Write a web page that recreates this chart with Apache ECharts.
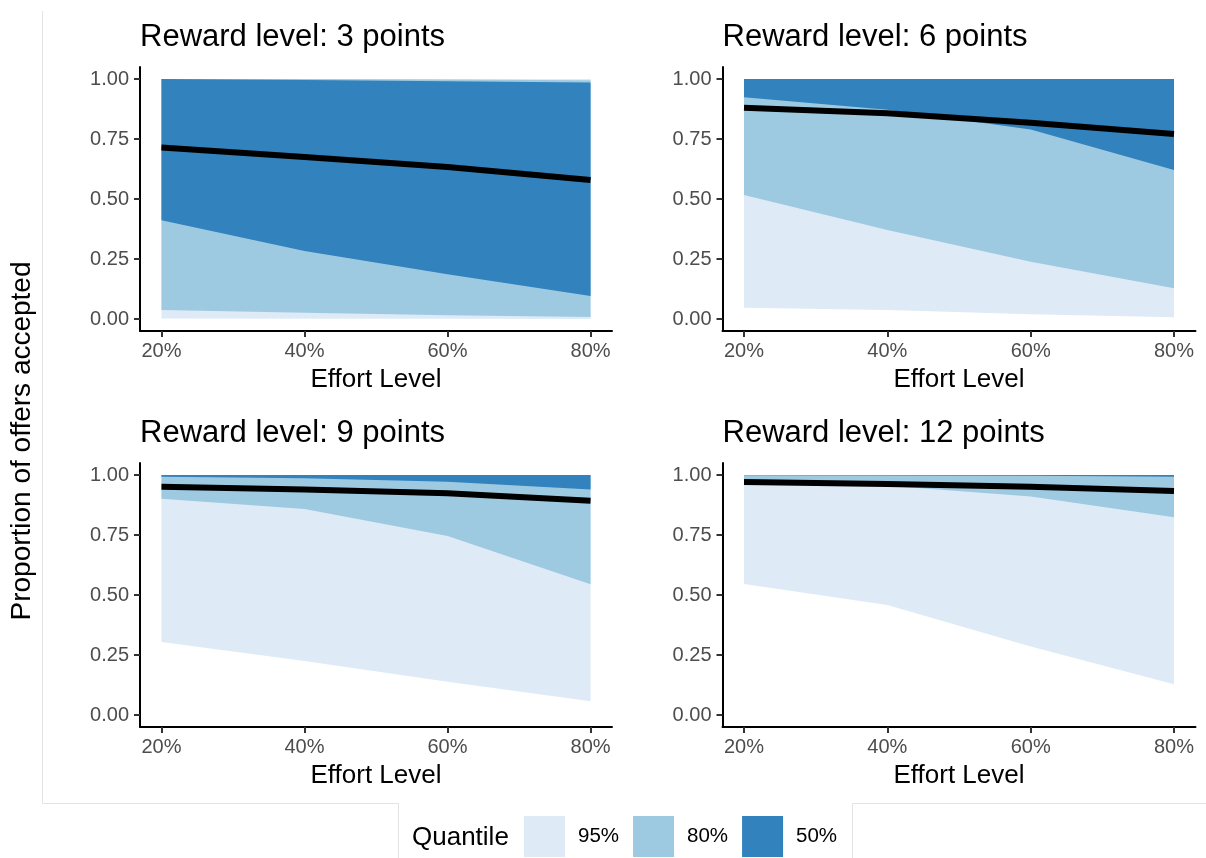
<!DOCTYPE html>
<html>
<head>
<meta charset="utf-8">
<script src="https://cdn.jsdelivr.net/npm/echarts@6/dist/echarts.min.js"></script>
<style>
html,body{margin:0;padding:0;background:#fff;}
#chart{width:1206px;height:858px;}
</style>
</head>
<body>
<div id="chart"></div>
<script>
// ---- data ----
const effortLevels = [0.2, 0.4, 0.6, 0.8];
const xTickValues = [0.2, 0.4, 0.6, 0.8];
const yTickValues = [0, 0.25, 0.5, 0.75, 1];
const panelTitles = ['Reward level: 3 points', 'Reward level: 6 points', 'Reward level: 9 points', 'Reward level: 12 points'];
const quantileNames = ['95%', '80%', '50%'];

// reward 3
const r3_median = [0.715, 0.675, 0.633, 0.579];
const r3_q95_lo = [0.002, 0.001, 0.001, 0.000];
const r3_q95_hi = [1.000, 1.000, 1.000, 1.000];
const r3_q80_lo = [0.038, 0.026, 0.016, 0.008];
const r3_q80_hi = [1.000, 1.000, 0.998, 0.995];
const r3_q50_lo = [0.411, 0.283, 0.186, 0.096];
const r3_q50_hi = [1.000, 0.996, 0.991, 0.985];
// reward 6
const r6_median = [0.880, 0.857, 0.818, 0.771];
const r6_q95_lo = [0.047, 0.038, 0.020, 0.007];
const r6_q95_hi = [1.000, 1.000, 1.000, 1.000];
const r6_q80_lo = [0.517, 0.371, 0.239, 0.128];
const r6_q80_hi = [1.000, 1.000, 1.000, 1.000];
const r6_q50_lo = [0.924, 0.872, 0.790, 0.621];
const r6_q50_hi = [1.000, 1.000, 1.000, 1.000];
// reward 9
const r9_median = [0.951, 0.940, 0.924, 0.893];
const r9_q95_lo = [0.304, 0.225, 0.139, 0.057];
const r9_q95_hi = [1.000, 1.000, 1.000, 1.000];
const r9_q80_lo = [0.901, 0.858, 0.746, 0.545];
const r9_q80_hi = [1.000, 1.000, 1.000, 1.000];
const r9_q50_lo = [0.993, 0.986, 0.972, 0.940];
const r9_q50_hi = [1.000, 1.000, 1.000, 1.000];
// reward 12
const r12_median = [0.971, 0.963, 0.951, 0.933];
const r12_q95_lo = [0.546, 0.458, 0.285, 0.128];
const r12_q95_hi = [1.000, 1.000, 1.000, 1.000];
const r12_q80_lo = [0.962, 0.955, 0.910, 0.824];
const r12_q80_hi = [1.000, 1.000, 1.000, 1.000];
const r12_q50_lo = [0.999, 0.998, 0.997, 0.993];
const r12_q50_hi = [1.000, 1.000, 1.000, 1.000];

const bandColors = {'95%': '#deebf7', '80%': '#9ecae1', '50%': '#3182bd'};

const panels = [
  {median: r3_median, bands: {'95%': [r3_q95_lo, r3_q95_hi], '80%': [r3_q80_lo, r3_q80_hi], '50%': [r3_q50_lo, r3_q50_hi]}},
  {median: r6_median, bands: {'95%': [r6_q95_lo, r6_q95_hi], '80%': [r6_q80_lo, r6_q80_hi], '50%': [r6_q50_lo, r6_q50_hi]}},
  {median: r9_median, bands: {'95%': [r9_q95_lo, r9_q95_hi], '80%': [r9_q80_lo, r9_q80_hi], '50%': [r9_q50_lo, r9_q50_hi]}},
  {median: r12_median, bands: {'95%': [r12_q95_lo, r12_q95_hi], '80%': [r12_q80_lo, r12_q80_hi], '50%': [r12_q50_lo, r12_q50_hi]}}
];

// ---- layout ----
const FONT = '"Liberation Sans", Arial, sans-serif';
const grids = [
  {left: 140, top: 67, width: 472, height: 264},
  {left: 722.5, top: 67, width: 473, height: 264},
  {left: 140, top: 463, width: 472, height: 264},
  {left: 722.5, top: 463, width: 473, height: 264}
];

// ribbon drawn as one polygon through the axis scales (api.coord)
function ribbonRenderer(xs, lo, hi, color) {
  return function (params, api) {
    if (params.dataIndex !== 0) return null;
    const pts = [];
    for (let k = 0; k < xs.length; k++) pts.push(api.coord([xs[k], hi[k]]));
    for (let k = xs.length - 1; k >= 0; k--) pts.push(api.coord([xs[k], lo[k]]));
    return {type: 'polygon', shape: {points: pts}, style: {fill: color, stroke: null}};
  };
}

const xAxes = [], yAxes = [], series = [], titles = [];
grids.forEach((g, i) => {
  titles.push({text: panelTitles[i], left: g.left, top: g.top - 45,
    textStyle: {fontFamily: FONT, fontSize: 31, fontWeight: 'normal', color: '#000'}, padding: 0});
  xAxes.push({
    type: 'value', gridIndex: i, min: 0.17, max: 0.83,
    name: 'Effort Level', nameLocation: 'middle', nameGap: 36,
    nameTextStyle: {fontFamily: FONT, fontSize: 26, color: '#000'},
    axisLine: {show: true, onZero: false, lineStyle: {color: '#000', width: 2}},
    axisTick: {show: true, length: 6, customValues: xTickValues, lineStyle: {color: '#333', width: 2}},
    axisLabel: {customValues: xTickValues, margin: 10, fontFamily: FONT, fontSize: 20, color: '#4d4d4d',
      formatter: v => Math.round(v * 100) + '%'},
    splitLine: {show: false}
  });
  yAxes.push({
    type: 'value', gridIndex: i, min: -0.05, max: 1.05,
    axisLine: {show: true, onZero: false, lineStyle: {color: '#000', width: 2}},
    axisTick: {show: true, length: 6, customValues: yTickValues, lineStyle: {color: '#333', width: 2}},
    axisLabel: {customValues: yTickValues, margin: 11, fontFamily: FONT, fontSize: 20, color: '#4d4d4d',
      formatter: v => v.toFixed(2)},
    splitLine: {show: false}
  });
  const p = panels[i];
  quantileNames.forEach((q, qi) => {
    const lo = p.bands[q][0], hi = p.bands[q][1];
    series.push({
      type: 'custom', name: q, xAxisIndex: i, yAxisIndex: i,
      data: effortLevels.map((x, k) => [x, lo[k], hi[k]]),
      encode: {x: 0, y: [1, 2]},
      itemStyle: {color: bandColors[q]},
      renderItem: ribbonRenderer(effortLevels, lo, hi, bandColors[q]),
      silent: true, z: 2 + qi, clip: true
    });
  });
  series.push({
    type: 'line', name: 'median' + i, xAxisIndex: i, yAxisIndex: i,
    data: effortLevels.map((x, k) => [x, p.median[k]]),
    symbol: 'none', silent: true, lineStyle: {color: '#000', width: 6, cap: 'butt'}, z: 6
  });
});

const chart = echarts.init(document.getElementById('chart'), null, {renderer: 'canvas'});
chart.setOption({
  backgroundColor: '#fff',
  animation: false,
  title: titles,
  grid: grids,
  xAxis: xAxes,
  yAxis: yAxes,
  series: series,
  legend: {
    data: quantileNames.map(q => ({name: q, itemStyle: {color: bandColors[q]}, icon: 'rect'})),
    left: 524, top: 816, itemWidth: 41, itemHeight: 41, itemGap: 14,
    selectedMode: false, padding: 0,
    textStyle: {fontFamily: FONT, fontSize: 20.5, color: '#000', padding: [0, 0, 0, 8]}
  },
  graphic: [
    {type: 'text', x: 22, y: 441, rotation: Math.PI / 2,
      style: {text: 'Proportion of offers accepted', fontFamily: FONT, fontSize: 28, fill: '#000', align: 'center', verticalAlign: 'middle'}},
    {type: 'text', x: 412, y: 838,
      style: {text: 'Quantile', fontFamily: FONT, fontSize: 26, fill: '#000', align: 'left', verticalAlign: 'middle'}},
    {type: 'polyline', shape: {points: [[42.5, 11], [42.5, 803.5], [398.5, 803.5], [398.5, 858]]},
      style: {stroke: '#e3e3e3', lineWidth: 1, fill: null}},
    {type: 'polyline', shape: {points: [[852.5, 858], [852.5, 803.5], [1206, 803.5]]},
      style: {stroke: '#e3e3e3', lineWidth: 1, fill: null}}
  ]
});
</script>
</body>
</html>
